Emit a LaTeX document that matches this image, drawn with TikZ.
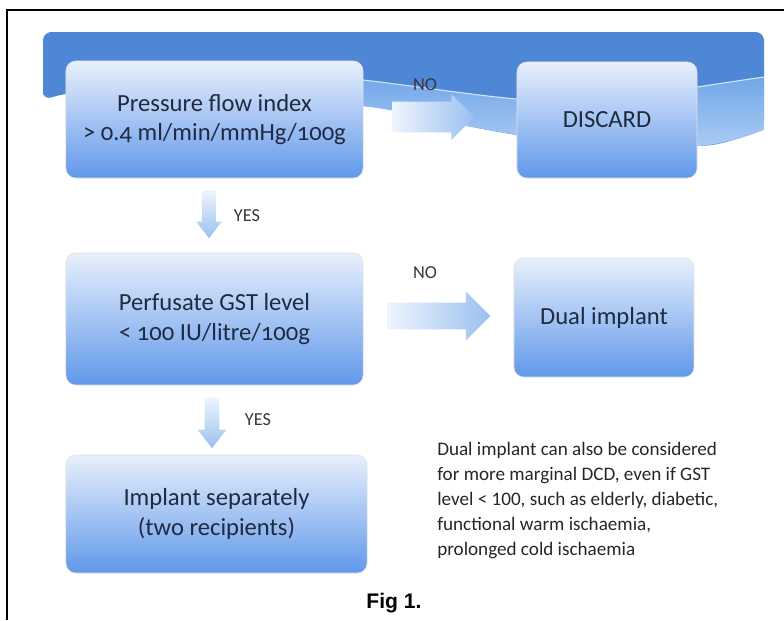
\documentclass[tikz,border=0pt]{standalone}
\usepackage{fontspec}
\setmainfont{Carlito}
\newfontfamily\boxfont{Carlito}[Numbers=OldStyle]
\newfontfamily\figfont{Liberation Sans}
\usetikzlibrary{shapes.arrows}

\definecolor{boxtop}{RGB}{232,240,252}
\definecolor{boxbot}{RGB}{96,152,234}
\definecolor{bandark}{RGB}{78,135,214}
\definecolor{bantop}{RGB}{112,165,232}
\definecolor{banbot}{RGB}{172,205,244}
\definecolor{txtdark}{RGB}{32,42,64}
\definecolor{arrlight}{RGB}{238,244,253}
\definecolor{arrdark}{RGB}{155,192,240}

\begin{document}
\begin{tikzpicture}[x=0.025cm, y=-0.025cm,
    stepbox/.style={rectangle, rounded corners=7pt, draw=black!12, top color=boxtop, bottom color=boxbot,
        text=txtdark, align=center, inner sep=0pt, font=\boxfont\fontsize{17.5}{21}\selectfont},
    harrow/.style={single arrow, shape border rotate=0, anchor=tail, left color=arrlight, right color=arrdark},
    varrow/.style={single arrow, shape border rotate=270, anchor=tail, single arrow tip angle=75, top color=arrlight, bottom color=arrdark},
    answer/.style={text=black!78, font=\fontsize{13}{14}\selectfont}]
    \useasboundingbox (0,0) rectangle (784,620) ;
    \draw[line width=1.1pt] (784,10) -- (7,10) -- (7,620) ;

    % wavy banner behind the first row
    \fill[bandark, rounded corners=6pt] (43,100) -- (43,32) -- (764,32) -- (764,130)
        .. controls (740,138) and (720,145) .. (697,146) .. controls (620,150) and (560,142) .. (517,135)
        .. controls (450,124) and (400,110) .. (363,106) .. controls (250,92) and (100,82) .. (43,100) -- cycle ;
    \shade[top color=bantop, bottom color=banbot] (200,74) .. controls (280,74) and (330,76) .. (363,80)
        .. controls (430,88) and (480,96) .. (517,99) .. controls (600,104) and (650,94) .. (697,87)
        .. controls (730,82) and (750,79) .. (764,77) -- (764,130)
        .. controls (740,138) and (720,145) .. (697,146) .. controls (620,150) and (560,142) .. (517,135)
        .. controls (450,124) and (400,110) .. (363,106) .. controls (300,100) and (250,96) .. (200,95) -- cycle ;
    \draw[white!75!bandark, line width=0.8pt] (300,76) .. controls (330,77) and (350,78) .. (363,80)
        .. controls (430,88) and (480,96) .. (517,99) .. controls (600,104) and (650,94) .. (697,87)
        .. controls (730,82) and (750,79) .. (764,77) ;

    \node[stepbox, minimum width=7.425cm, minimum height=2.925cm] (pfi) at (214.5,119.5) {Pressure flow index\\> 0.4 ml/min/mmHg/100g} ;
    \node[stepbox, minimum width=4.5cm, minimum height=2.9cm] (discard) at (607,120) {DISCARD} ;
    \node[stepbox, minimum width=7.425cm, minimum height=3.3cm] (gst) at (214.5,319) {Perfusate GST level\\< 100 IU/litre/100g} ;
    \node[stepbox, minimum width=4.5cm, minimum height=2.975cm] (dual) at (604,317.5) {Dual implant} ;
    \node[stepbox, minimum width=7.525cm, minimum height=2.95cm] (separate) at (216.5,514) {Implant separately\\(two recipients)} ;

    \node[harrow, minimum height=2.05cm, inner sep=0.375cm, single arrow head extend=0.19cm] (noarrow1) at (392,117) {} ;
    \node[harrow, minimum height=2.575cm, inner sep=0.325cm, single arrow head extend=0.28cm] (noarrow2) at (387,316) {} ;
    \node[varrow, minimum height=1.2cm, inner sep=0.1625cm, single arrow head extend=0.15cm] (yesarrow1) at (209,190) {} ;
    \node[varrow, minimum height=1.275cm, inner sep=0.175cm, single arrow head extend=0.175cm] (yesarrow2) at (212,397) {} ;

    \node[answer] (no1) at (425,85) {NO} ;
    \node[answer] (no2) at (425,273) {NO} ;
    \node[answer] (yes1) at (247,216) {YES} ;
    \node[answer] (yes2) at (258,420) {YES} ;

    \node[anchor=north west, align=left, inner sep=0pt, text=black!85, font=\fontsize{13.6}{17.7}\selectfont] (note) at (437,442)
        {Dual implant can also be considered\\for more marginal DCD, even if GST\\level < 100, such as elderly, diabetic,\\functional warm ischaemia,\\prolonged cold ischaemia} ;
    \node[font=\figfont\bfseries\fontsize{15}{18}\selectfont] (fig) at (394,603) {Fig 1.} ;
\end{tikzpicture}
\end{document}
